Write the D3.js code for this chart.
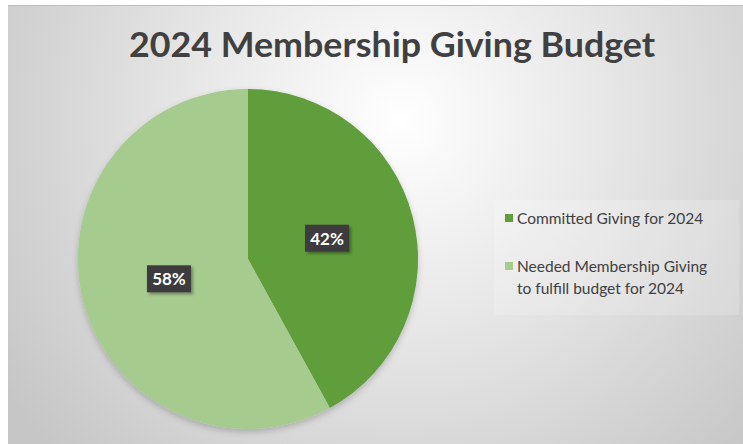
<!DOCTYPE html>
<html>
<head>
<meta charset="utf-8">
<script src="https://cdn.jsdelivr.net/npm/d3@7"></script>
<style>
  body { margin: 0; background: #fff; }
  svg { display: block; }
</style>
</head>
<body>
<svg id="chart" width="743" height="444"></svg>
<script>
// chart data
const categories = ["Committed Giving for 2024", "Needed Membership Giving to fulfill budget for 2024"]
const values = [42, 58]
const legendLines = [["Committed Giving for 2024"], ["Needed Membership Giving", "to fulfill budget for 2024"]]
const colors = ["#5f9e3a", "#a6cb8e"]
const title = "2024 Membership Giving Budget"

const svg = d3.select("#chart")
const W = 743, H = 444

const defs = svg.append("defs")
const grad = defs.append("radialGradient")
    .attr("id", "bg")
    .attr("gradientUnits", "userSpaceOnUse")
    .attr("cx", 400).attr("cy", 120).attr("r", 480)
grad.append("stop").attr("offset", "0%").attr("stop-color", "#ffffff")
grad.append("stop").attr("offset", "45%").attr("stop-color", "#e6e6e6")
grad.append("stop").attr("offset", "100%").attr("stop-color", "#c6c6c6")

const shadow = defs.append("filter").attr("id", "shadow")
    .attr("x", "-20%").attr("y", "-20%").attr("width", "140%").attr("height", "140%")
shadow.append("feDropShadow").attr("dx", 0).attr("dy", 3).attr("stdDeviation", 3)
    .attr("flood-color", "#000").attr("flood-opacity", 0.2)

const lblShadow = defs.append("filter").attr("id", "lblshadow")
    .attr("x", "-30%").attr("y", "-30%").attr("width", "160%").attr("height", "160%")
lblShadow.append("feDropShadow").attr("dx", 2).attr("dy", 2).attr("stdDeviation", 1.5)
    .attr("flood-color", "#000").attr("flood-opacity", 0.35)

// background
svg.append("rect").attr("x", 8).attr("y", 5).attr("width", W - 8).attr("height", H - 5)
    .attr("fill", "url(#bg)")
svg.append("line").attr("x1", 8).attr("x2", W).attr("y1", 5.5).attr("y2", 5.5)
    .attr("stroke", "#bdbdbd").attr("stroke-width", 1)

// title
svg.append("text")
    .attr("x", 392).attr("y", 57)
    .attr("text-anchor", "middle")
    .attr("font-family", "Lato, 'Open Sans', sans-serif")
    .attr("font-weight", "bold")
    .attr("font-size", 34)
    .attr("fill", "#404040")
    .attr("textLength", 526)
    .attr("lengthAdjust", "spacingAndGlyphs")
    .text(title)

// pie
const cx = 248, cy = 259, radius = 170
const pie = d3.pie().sort(null).value(d => d)
const arcs = pie(values)
const arc = d3.arc().innerRadius(0).outerRadius(radius)

const g = svg.append("g").attr("transform", "translate(" + cx + "," + cy + ")")
g.append("g").attr("filter", "url(#shadow)")
    .selectAll("path")
    .data(arcs)
    .enter().append("path")
    .attr("d", arc)
    .attr("fill", (d, i) => colors[i])

// data labels
const labelArc = d3.arc().innerRadius(radius * 0.48).outerRadius(radius * 0.48)
const lbl = g.selectAll(".lbl")
    .data(arcs)
    .enter().append("g")
    .attr("class", "lbl")
    .attr("transform", d => {
        const c = labelArc.centroid(d)
        return "translate(" + c[0] + "," + c[1] + ")"
    })
lbl.append("rect")
    .attr("x", -22).attr("y", -14).attr("width", 44).attr("height", 27)
    .attr("fill", "#3d3b3d")
    .attr("filter", "url(#lblshadow)")
lbl.append("text")
    .attr("text-anchor", "middle")
    .attr("dy", "0.36em")
    .attr("font-family", "Lato, sans-serif")
    .attr("font-weight", "bold")
    .attr("font-size", 17)
    .attr("fill", "#ffffff")
    .text(d => d.value + "%")

// legend
svg.append("rect").attr("x", 494).attr("y", 200).attr("width", 245).attr("height", 115)
    .attr("fill", "#ffffff").attr("opacity", 0.18)
const legendY = [218, 266]
const legend = svg.selectAll(".legend")
    .data(categories)
    .enter().append("g")
    .attr("class", "legend")
    .attr("transform", (d, i) => "translate(505," + legendY[i] + ")")
legend.append("rect")
    .attr("x", 0).attr("y", -4).attr("width", 8).attr("height", 8)
    .attr("fill", (d, i) => colors[i])
legend.append("text")
    .attr("x", 12).attr("y", 5.5)
    .attr("font-family", "Lato, sans-serif")
    .attr("font-size", 15.5)
    .attr("fill", "#404040")
    .selectAll("tspan")
    .data((d, i) => legendLines[i])
    .enter().append("tspan")
    .attr("x", 12)
    .attr("dy", (d, j) => j === 0 ? 0 : 22)
    .text(d => d)
</script>
</body>
</html>
